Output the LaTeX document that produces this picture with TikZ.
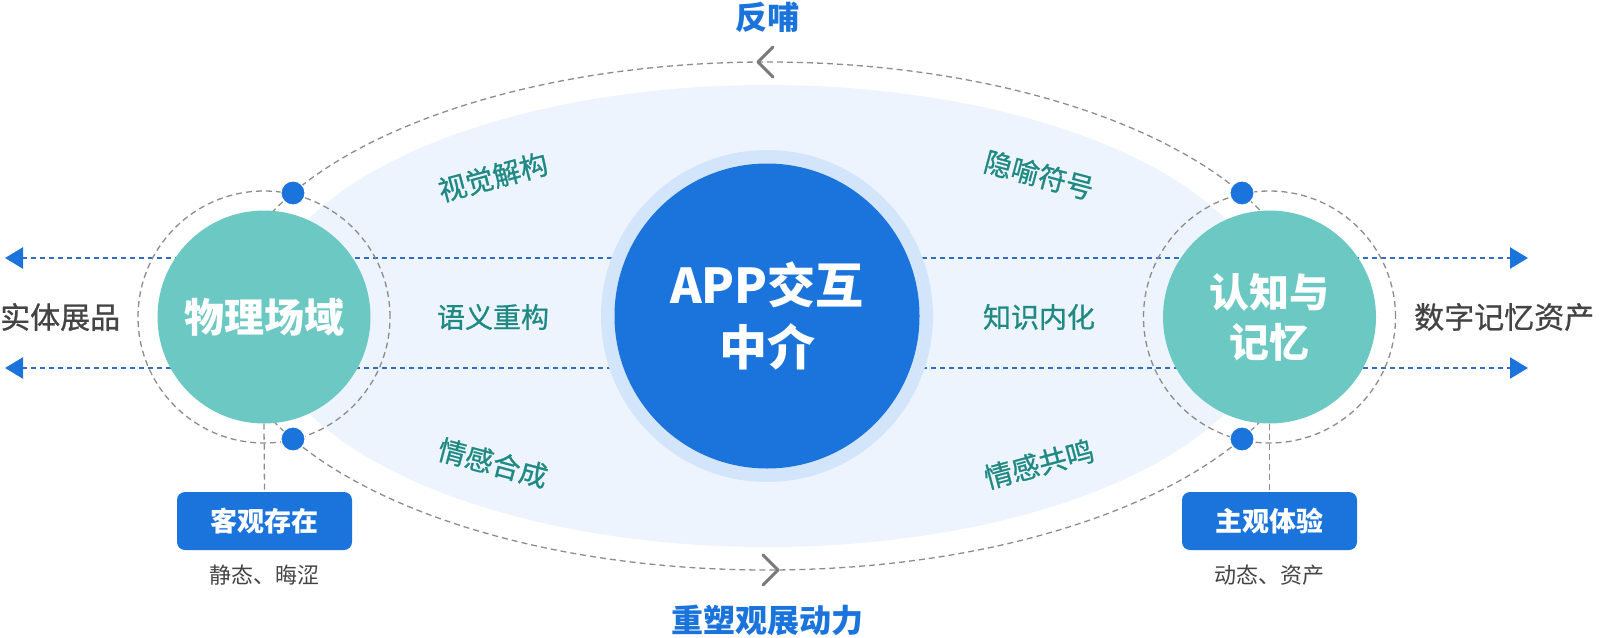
\documentclass[tikz,border=0pt]{standalone}
\usepackage{fontspec}
\setmainfont{Noto Sans CJK SC}
\newfontfamily\medfont{Noto Sans CJK SC}[BoldFont={Noto Sans CJK SC}, BoldFeatures={FakeBold=0.8}]
\usetikzlibrary{arrows.meta}
\definecolor{bgfill}{HTML}{EEF4FD}
\definecolor{ringc}{HTML}{D3E5FB}
\definecolor{mainblue}{HTML}{1B74DC}
\definecolor{tealc}{HTML}{6CC8C3}
\definecolor{tealtext}{HTML}{1E8A83}
\definecolor{dashgray}{HTML}{8C8C8C}
\definecolor{lineblue}{HTML}{2F6EC4}
\definecolor{darktext}{HTML}{444444}
\definecolor{chevc}{HTML}{7A7A7A}
\begin{document}
\begin{tikzpicture}[x=1pt,y=-1pt,
  gdash/.style={draw=dashgray, line width=1.3pt, dash pattern=on 6pt off 4pt},
  bdash/.style={draw=lineblue, line width=2.4pt, dash pattern=on 5pt off 4pt,
     {Triangle[length=18pt,width=21pt,color=mainblue]}-{Triangle[length=18pt,width=21pt,color=mainblue]}},
  tealnode/.style={circle, fill=tealc, minimum size=213pt, inner sep=0pt, text=white, align=center,
     font=\fontsize{40}{50}\selectfont\bfseries},
  dotnode/.style={circle, fill=mainblue, draw=white, line width=1pt, minimum size=24pt, inner sep=0pt},
  boxnode/.style={fill=mainblue, rounded corners=8pt, minimum width=175pt, minimum height=58pt,
     inner sep=0pt, text=white, font=\fontsize{27}{30}\selectfont\bfseries},
  subtext/.style={text=darktext, font=\fontsize{22}{26}\selectfont, inner sep=0pt},
  sidetext/.style={text=darktext, font=\fontsize{30}{34}\selectfont\medfont\bfseries, inner sep=0pt},
  tlabel/.style={text=tealtext, font=\fontsize{28}{32}\selectfont\medfont\bfseries, inner sep=0pt},
  title/.style={text=mainblue, font=\fontsize{32}{36}\selectfont\bfseries, inner sep=0pt},
  chevron/.style={draw=chevc, line width=3pt, line cap=round, line join=round}
]
\useasboundingbox (0,0) rectangle (1600,637);
\coordinate (ctr) at (767,316);
% background lens
\fill[bgfill] (ctr) ellipse[x radius=505pt, y radius=231pt];
% feedback loop
\draw[gdash] (ctr) ellipse[x radius=542pt, y radius=254pt];
\draw[chevron] (773,47) -- (758,62) -- (773,77);
\draw[chevron] (763,555) -- (778,570) -- (763,585);
% horizontal flow lines
\coordinate (la) at (5,258);
\coordinate (ra) at (1528,258);
\coordinate (lb) at (5,368);
\coordinate (rb) at (1528,368);
\draw[bdash] (la) -- (ra);
\draw[bdash] (lb) -- (rb);
% center
\fill[ringc] (ctr) circle[radius=166pt];
\node[circle, fill=mainblue, minimum size=305pt, inner sep=0pt, text=white, align=center,
  font=\fontsize{48}{62}\selectfont\bfseries] (app) at (ctr) {APP交互\\中介};
% side circles
\node[tealnode] (phys) at (264,317) {物理场域};
\node[tealnode] (cog) at (1269.5,317) {认知与\\记忆};
\draw[gdash] (phys.center) circle[radius=126pt];
\draw[gdash] (cog.center) circle[radius=126pt];
% dots
\node[dotnode] (d1) at (293,193) {};
\node[dotnode] (d2) at (293,439) {};
\node[dotnode] (d3) at (1242,193) {};
\node[dotnode] (d4) at (1242,439) {};
% boxes
\node[boxnode] (b1) at (264.5,521) {客观存在};
\node[boxnode] (b2) at (1269.5,521) {主观体验};
\draw[gdash] (phys.south) -- (b1.north);
\draw[gdash] (cog.south) -- (b2.north);
\node[subtext] (s1) at (264.5,575) {静态、晦涩};
\node[subtext] (s2) at (1269.5,575) {动态、资产};
% side texts
\node[sidetext, anchor=west] (st1) at (0,317) {实体展品};
\node[sidetext, anchor=west] (st2) at (1414,317) {数字记忆资产};
% labels
\node[tlabel, rotate=15] (t1) at (493,177) {视觉解构};
\node[tlabel] (t2) at (493,317) {语义重构};
\node[tlabel, rotate=-15] (t3) at (493,463) {情感合成};
\node[tlabel, rotate=-15] (t4) at (1039,175) {隐喻符号};
\node[tlabel] (t5) at (1039,317) {知识内化};
\node[tlabel, rotate=15] (t6) at (1039,464) {情感共鸣};
% titles
\node[title] (fb) at (767,17) {反哺};
\node[title] (cs) at (767,620) {重塑观展动力};
\end{tikzpicture}
\end{document}
